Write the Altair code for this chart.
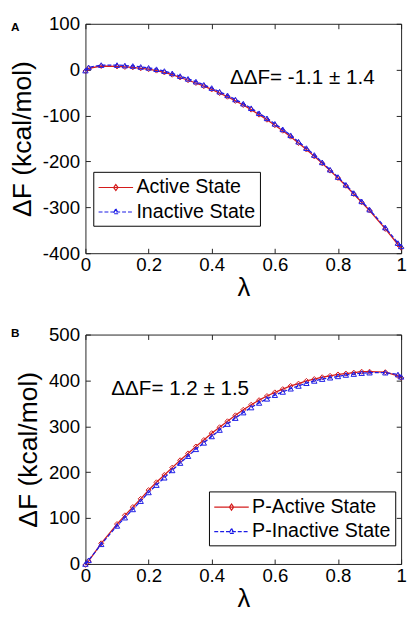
import altair as alt
import pandas as pd

lam = [0, 0.01, 0.05, 0.1, 0.125, 0.15, 0.175, 0.2, 0.225, 0.25, 0.275, 0.3, 0.325,
       0.35, 0.375, 0.4, 0.425, 0.45, 0.475, 0.5, 0.525, 0.55, 0.575, 0.6, 0.625,
       0.65, 0.675, 0.7, 0.725, 0.75, 0.775, 0.8, 0.825, 0.85, 0.875, 0.9, 0.95, 0.99, 1]

a_active = [-3, 3, 8, 7, 6, 5, 3, 1, -2, -6, -11, -17, -23, -29, -36, -43, -51, -59, -68,
            -77, -87, -98, -109, -121, -133, -146, -160, -174, -189, -204, -220, -236,
            -253, -271, -289, -307, -347, -381, -388]
a_inactive = [-2, 5, 10, 10, 9, 8, 6, 4, 1, -3, -8, -14, -20, -26, -33, -40, -48, -56, -65,
              -74, -84, -95, -106, -118, -130, -143, -157, -171, -186, -202, -218, -234,
              -251, -269, -287, -305, -344, -378, -385]
b_active = [-2, 6, 45, 87, 106, 124, 142, 161, 178, 194, 210, 226, 241, 256, 270, 285, 298,
            311, 324, 336, 347, 357, 366, 374, 381, 388, 393, 399, 403, 407, 410, 413, 415,
            417, 419, 419, 418, 410, 406]
b_inactive = [0, 8, 43, 83, 101, 119, 137, 156, 172, 188, 204, 220, 235, 250, 264, 278, 292,
              305, 318, 330, 341, 351, 360, 368, 375, 382, 388, 394, 399, 403, 406, 409, 412,
              414, 416, 417, 417, 413, 408]

x_ticks = [0, 0.2, 0.4, 0.6, 0.8, 1]
a_ticks = [-400, -300, -200, -100, 0, 100]
b_ticks = [0, 100, 200, 300, 400, 500]
a_names = ["Active State", "Inactive State"]
b_names = ["P-Active State", "P-Inactive State"]
a_note = "ΔΔF= -1.1 ± 1.4"
b_note = "ΔΔF= 1.2 ± 1.5"

FONT = "Liberation Sans"
RED = "#d41c1c"
BLUE = "#1c1ce6"
# legend symbol: a line segment with the marker in its middle (wider than the unit box)
P_DIA = "M-1.6,0L1.6,0M0,-0.28L0.2,0L0,0.28L-0.2,0Z"
P_TRI = "M-1.6,0L1.6,0M0,-0.3L0.24,0.16L-0.24,0.16Z"


def panel(letter, letter_dx, letter_dy, names, act, inact, ydom, yticks, note, note_lam,
          note_df, leg_x, leg_y, W, H):
    n = len(lam)
    df = pd.DataFrame({"lam": lam * 2, "dF": act + inact,
                       "series": [names[0]] * n + [names[1]] * n})
    xs = alt.X("lam:Q", scale=alt.Scale(domain=[0, 1], nice=False, zero=False),
               axis=alt.Axis(values=x_ticks, labelExpr="'' + datum.value", title="λ",
                             offset=-5, tickSize=5, domain=False, grid=False,
                             labelPadding=3, titlePadding=0, titleFontSize=26,
                             labelFlush=False))
    ys = alt.Y("dF:Q", scale=alt.Scale(domain=ydom, nice=False, zero=False),
               axis=alt.Axis(values=yticks, labelExpr="'' + datum.value",
                             title="ΔF (kcal/mol)", offset=-5, tickSize=5, domain=False,
                             grid=False, labelPadding=6, titlePadding=6, titleFontSize=27,
                             labelFlush=False))
    base = alt.Chart(df)
    red_line = base.transform_filter(alt.datum.series == names[0]).mark_line(
        color=RED, strokeWidth=1.3).encode(x=xs, y=ys)
    red_pts = base.transform_filter(alt.datum.series == names[0]).mark_point(
        shape="diamond", filled=False, color=RED, size=26, strokeWidth=1, opacity=1).encode(x=xs, y=ys)
    blue_line = base.transform_filter(alt.datum.series == names[1]).mark_line(
        color=BLUE, strokeWidth=1.3, strokeDash=[4, 2]).encode(x=xs, y=ys)
    blue_pts = base.transform_filter(alt.datum.series == names[1]).mark_point(
        shape="triangle-up", filled=False, color=BLUE, size=30, strokeWidth=1, opacity=1).encode(x=xs, y=ys)

    leg = alt.Legend(title=None, orient="none", legendX=leg_x, legendY=leg_y,
                     labelFont=FONT, labelFontSize=20, labelColor="black",
                     symbolSize=484, symbolStrokeWidth=1.2, strokeColor="black",
                     fillColor="white", padding=4, rowPadding=3, labelOffset=9,
                     symbolOffset=7, labelLimit=300)
    legend_layer = base.transform_filter("datum.lam < 0").mark_point(
        filled=False, strokeWidth=1.2, opacity=1).encode(
        x=xs, y=ys,
        color=alt.Color("series:N", scale=alt.Scale(domain=names, range=[RED, BLUE]), legend=leg),
        shape=alt.Shape("series:N", scale=alt.Scale(domain=names, range=[P_DIA, P_TRI]), legend=leg),
        strokeDash=alt.StrokeDash("series:N", scale=alt.Scale(domain=names, range=[[1, 0], [4, 2]]), legend=leg),
    )

    note_layer = alt.Chart(pd.DataFrame({"lam": [note_lam], "dF": [note_df], "t": [note]})).mark_text(
        font=FONT, fontSize=21, align="left", baseline="alphabetic", color="black").encode(
        x=xs, y=ys, text="t:N")
    letter_layer = alt.Chart(pd.DataFrame({"t": [letter]})).mark_text(
        font=FONT, fontSize=12, fontWeight="bold", align="left", baseline="middle",
        color="black").encode(x=alt.value(letter_dx), y=alt.value(letter_dy), text="t:N")

    inner = alt.layer(red_line, red_pts, blue_line, blue_pts, legend_layer, note_layer,
                      letter_layer)

    tick_layer = base.mark_point(opacity=0).encode(
        x=alt.X("lam:Q", axis=alt.Axis(orient="top", values=x_ticks, labels=False, title=None,
                                       offset=-5, tickSize=5, domain=False, grid=False,
                                       minExtent=0, maxExtent=0)),
        y=alt.Y("dF:Q", axis=alt.Axis(orient="right", values=yticks, labels=False, title=None,
                                      offset=-5, tickSize=5, domain=False, grid=False,
                                      minExtent=0, maxExtent=0)),
    )
    return alt.layer(inner, tick_layer).resolve_axis(x="independent", y="independent").properties(
        width=W, height=H)


pa = panel("A", -76, 3, a_names, a_active, a_inactive, [-400, 100], a_ticks, a_note, 0.458, -31,
           8, 151, 322, 234)
pb = panel("B", -76, -2, b_names, b_active, b_inactive, [0, 500], b_ticks, b_note, 0.082, 369,
           126, 160, 322, 234)

chart = alt.vconcat(pa, pb, spacing=24).resolve_scale(
    color="independent", shape="independent", strokeDash="independent").properties(
    padding=0).configure_view(stroke="#222", strokeWidth=1).configure_axis(
    labelFont=FONT, titleFont=FONT, labelFontSize=19, titleFontWeight="normal",
    labelColor="black", titleColor="black", tickColor="#222", tickWidth=1)

chart.save("out.html", embed_options={"renderer": "svg", "actions": False})
